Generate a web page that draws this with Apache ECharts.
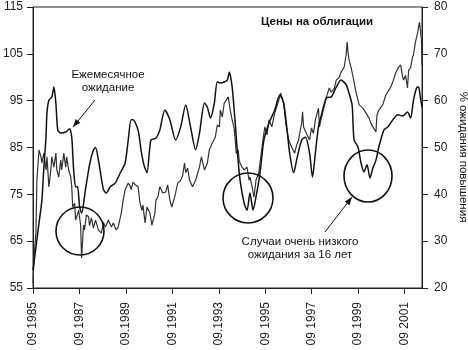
<!DOCTYPE html>
<html>
<head>
<meta charset="utf-8">
<script src="https://cdn.jsdelivr.net/npm/echarts@6/dist/echarts.min.js"></script>
<style>
html,body{margin:0;padding:0;background:#fff;}
#chart{width:468px;height:350px;}
</style>
</head>
<body>
<div id="chart"></div>
<script>
// x values are months after September 1985
const tickLabels = ["09 1985","09 1987","09.1989","09 1991","09.1993","09 1995","09 1997","09 1999","09 2001"];
const tickMonths = [0,24,48,72,96,120,144,168,192];
const leftTicks = [55,65,75,85,95,105,115];
const rightTicks = [20,30,40,50,60,70,80];

// Bond prices (left axis)
const bondMonths = [0,0.5,1.5,2.0,3.1,4.1,4.6,5.6,6.7,7.2,8.2,9.2,9.7,10.8,11.8,12.3,13.3,14.3,14.8,15.9,16.9,17.4,18.4,19.5,20.0,20.5,21.5,22.0,23.6,24.6,25.1,26.1,26.6,27.6,28.7,29.2,30.2,31.2,32.3,33.8,35.3,36.4,37.4,38.9,40.5,41.5,43.0,44.0,45.6,46.6,47.6,49.2,50.2,50.7,51.7,52.7,54.3,55.3,56.3,56.8,57.9,58.9,60.4,61.4,63.0,63.5,64.5,65.5,67.1,68.6,69.6,70.7,71.7,73.2,74.8,76.3,77.3,78.3,78.9,79.9,80.9,82.4,84.0,86.0,87.0,88.6,90.1,91.1,92.7,94.2,95.2,96.3,96.8,97.8,98.8,99.8,100.9,101.9,102.9,103.9,104.5,105.0,106.0,106.5,107.0,108.0,109.1,110.6,111.6,112.1,113.2,114.2,115.2,116.7,117.3,118.8,119.8,120.9,121.9,123.4,124.9,127.0,128.0,129.5,130.6,132.1,133.6,135.2,136.2,137.2,138.8,139.3,139.8,141.3,142.9,143.9,144.9,145.9,147.5,148.0,149.0,150.0,151.6,153.1,154.1,155.7,156.7,158.2,159.2,160.8,161.8,162.3,162.8,163.3,164.4,165.4,166.9,168.5,170.5,172.0,173.6,174.6,175.6,177.2,177.7,178.7,180.7,182.3,183.3,184.8,185.9,187.4,188.9,190.0,191.0,191.5,192.5,193.5,194.1,195.1,196.1,196.6,197.6,198.7,199.2,199.7,200.2,200.7,201.0];
const bondPrices = [56,61.6,66.7,78,84.5,83,81.7,83.8,80.2,83,76.6,80.2,83,80.8,83.8,80.2,78.7,82.3,80.2,83.8,80.8,83,80.2,78.7,76.6,72.3,73.1,69.5,71.6,68.4,61.4,68.4,67.4,70.6,70.2,68.3,70,67.8,69.5,67.4,66.7,69,68,69.5,68,68.9,67.4,68,71,73.8,76,77.4,76.8,76,77.6,77.1,76.6,73.1,71.6,72.7,68.9,72.3,71,68.4,71,73.8,74.4,76.6,75.3,75.5,77,73.8,72.3,74.4,77.4,78,79,81.7,79.6,80.6,78,76.6,78,80.8,83,80.2,81.7,84.5,86,87.2,89.8,89.4,93,91.5,94.5,95.1,95.8,93,90.9,89.2,86.6,83.8,84.5,82.3,81.7,80.8,80.2,80.8,78,78.7,76.6,74.4,78,79.6,81.7,86.6,89.4,87.7,90.9,89.4,92.4,95.1,96.6,94.5,90.2,86.6,85.1,83.8,85.5,86.6,90.2,92.6,89.4,88,86.6,89.2,88,90.9,93.4,89.4,91.3,93,95.8,97.7,96.8,97.7,99.4,100,101.1,102.2,104.8,107.5,105.2,103.7,102,100,96.8,94.1,93.4,92.4,91.3,90.2,89.4,88.3,91.9,93,94.1,96.2,95.8,97.9,99,100.9,102.2,102.6,100,99.4,100.4,97.7,101.5,102,104.3,104.8,107.5,109.4,110.7,111.8,112.2,108,102.6];

// Monthly expectation, % bullish (right axis)
const expMonths = [0,1.5,3.1,4.6,5.6,6.7,7.2,8.2,9.7,10.8,11.8,12.8,14.3,16.9,18.9,20.0,20.5,21.0,22.0,23.0,24.1,25.1,27.1,29.2,31.2,32.3,33.8,34.8,36.4,37.9,39.9,42.5,45.1,47.6,49.2,50.7,51.7,54.3,55.8,57.3,58.9,60.9,63.5,65.5,68.1,70.7,73.7,76.3,78.9,81.4,84.0,86.0,88.6,90.1,91.7,93.7,95.2,96.8,98.8,100.4,101.4,102.9,104.5,105.5,107.0,109.1,110.6,112.1,113.7,115.2,117.3,119.3,121.9,124.9,127.5,129.5,131.1,132.6,134.7,136.2,138.8,140.8,142.9,144.4,145.9,147.5,149.0,151.6,154.1,156.7,159.2,161.8,163.3,164.9,165.9,167.9,169.5,171.0,172.6,174.1,175.6,177.2,178.7,181.3,183.3,185.9,188.4,191.0,193.5,195.1,196.6,198.2,199.2,200.2,201.0];
const expPercent = [23.8,28.7,33.9,38.8,45.8,52.2,57.4,60.1,60.8,62.9,59.5,53.7,53.1,53.3,54.0,52.2,48.8,45.2,41.6,41.6,37.3,36.0,41.0,46.3,49.5,50.0,47.3,44.8,41.0,40.3,41.6,42.4,44.6,46.7,51.6,55.9,55.9,53.7,49.5,46.3,44.6,51.6,52.0,53.7,58.0,55.9,51.6,54.4,59.1,54.4,49.5,53.0,59.5,58.6,56.3,59.5,64.0,63.8,64.0,64.4,66.1,62.9,55.2,49.5,43.0,38.1,36.6,40.3,36.6,39.4,44.6,51.6,55.2,58.0,61.2,59.5,54.4,48.8,44.6,47.3,51.6,52.2,48.8,43.7,48.8,54.4,56.9,60.6,60.8,62.9,64.4,63.4,61.6,59.0,51.6,50.1,46.7,44.8,46.3,43.5,45.6,47.3,50.1,53.7,54.4,55.9,57.0,56.7,57.6,56.3,60.1,62.7,62.9,60.6,58.6];

const bondData = bondMonths.map((m, i) => [m, bondPrices[i]]);
const expData = expMonths.map((m, i) => [m, expPercent[i]]);

const FONT = 'Liberation Sans';
const axisCol = '#222';

function arrowHead(tip, from, len, half) {
  const dx = tip[0] - from[0], dy = tip[1] - from[1];
  const d = Math.sqrt(dx * dx + dy * dy);
  const ux = dx / d, uy = dy / d;
  const bx = tip[0] - ux * len, by = tip[1] - uy * len;
  return [tip, [bx - uy * half, by + ux * half], [bx + uy * half, by - ux * half]];
}

const chart = echarts.init(document.getElementById('chart'), null, {renderer: 'canvas'});
const a1from = [95, 100], a1to = [73, 127];
const a2from = [325, 232], a2to = [352, 197];

chart.setOption({
  animation: false,
  backgroundColor: '#fff',
  grid: {left: 30, right: 46, top: 7, bottom: 62, show: true, borderColor: axisCol, borderWidth: 1, containLabel: false},
  xAxis: {
    type: 'value', min: 0, max: 201, interval: 24,
    axisLine: {show: true, lineStyle: {color: axisCol, width: 1}},
    axisTick: {show: true, length: 6, customValues: tickMonths, lineStyle: {color: axisCol}},
    splitLine: {show: false},
    axisLabel: {
      customValues: tickMonths, rotate: 90, margin: 14,
      fontFamily: FONT, fontSize: 12, color: axisCol,
      formatter: v => tickLabels[tickMonths.indexOf(Math.round(v))] || ''
    }
  },
  yAxis: [
    {
      type: 'value', min: 55, max: 115, position: 'left',
      axisLine: {show: true, lineStyle: {color: axisCol, width: 1}},
      axisTick: {show: true, length: 6, customValues: leftTicks, lineStyle: {color: axisCol}},
      splitLine: {show: false},
      axisLabel: {customValues: leftTicks, margin: 10, fontFamily: FONT, fontSize: 12, color: axisCol}
    },
    {
      type: 'value', min: 20, max: 80, position: 'right', alignTicks: false,
      axisLine: {show: true, lineStyle: {color: axisCol, width: 1}},
      axisTick: {show: true, length: 6, customValues: rightTicks, lineStyle: {color: axisCol}},
      splitLine: {show: false},
      axisLabel: {customValues: rightTicks, margin: 12, fontFamily: FONT, fontSize: 12, color: axisCol}
    }
  ],
  series: [
    {
      name: 'Цены на облигации', type: 'line', yAxisIndex: 0, data: bondData,
      showSymbol: false, lineStyle: {color: '#333', width: 1.2}, z: 2
    },
    {
      name: 'Ежемесячное ожидание', type: 'line', yAxisIndex: 1, data: expData,
      showSymbol: false, smooth: 0.25, lineStyle: {color: '#111', width: 1.5}, z: 3
    }
  ],
  graphic: [
    {type: 'text', x: 317, y: 22, style: {text: 'Цены на облигации', fontFamily: FONT, fontSize: 11.5, fontWeight: 'bold', fill: '#111', align: 'center', verticalAlign: 'middle'}},
    {type: 'text', x: 108, y: 75, style: {text: 'Ежемесячное', fontFamily: FONT, fontSize: 11.5, fill: '#111', align: 'center', verticalAlign: 'middle'}},
    {type: 'text', x: 108, y: 88, style: {text: 'ожидание', fontFamily: FONT, fontSize: 11.5, fill: '#111', align: 'center', verticalAlign: 'middle'}},
    {type: 'text', x: 300, y: 242, style: {text: 'Случаи очень низкого', fontFamily: FONT, fontSize: 11.5, fill: '#111', align: 'center', verticalAlign: 'middle'}},
    {type: 'text', x: 300, y: 255, style: {text: 'ожидания за 16 лет', fontFamily: FONT, fontSize: 11.5, fill: '#111', align: 'center', verticalAlign: 'middle'}},
    {type: 'text', x: 463, y: 157, rotation: -Math.PI / 2, style: {text: '% ожидания повышения', fontFamily: FONT, fontSize: 11.5, fill: '#111', align: 'center', verticalAlign: 'middle'}},
    {type: 'circle', shape: {cx: 80, cy: 231, r: 24}, style: {fill: 'none', stroke: '#111', lineWidth: 1.6}, z: 10},
    {type: 'circle', shape: {cx: 248, cy: 198, r: 25}, style: {fill: 'none', stroke: '#111', lineWidth: 1.6}, z: 10},
    {type: 'ellipse', shape: {cx: 368, cy: 176, rx: 24, ry: 26}, style: {fill: 'none', stroke: '#111', lineWidth: 1.6}, z: 10},
    {type: 'line', shape: {x1: a1from[0], y1: a1from[1], x2: a1to[0], y2: a1to[1]}, style: {stroke: '#111', lineWidth: 1}, z: 10},
    {type: 'polygon', shape: {points: arrowHead(a1to, a1from, 8, 3)}, style: {fill: '#111'}, z: 10},
    {type: 'line', shape: {x1: a2from[0], y1: a2from[1], x2: a2to[0], y2: a2to[1]}, style: {stroke: '#111', lineWidth: 1}, z: 10},
    {type: 'polygon', shape: {points: arrowHead(a2to, a2from, 8, 3)}, style: {fill: '#111'}, z: 10}
  ]
});
</script>
</body>
</html>
